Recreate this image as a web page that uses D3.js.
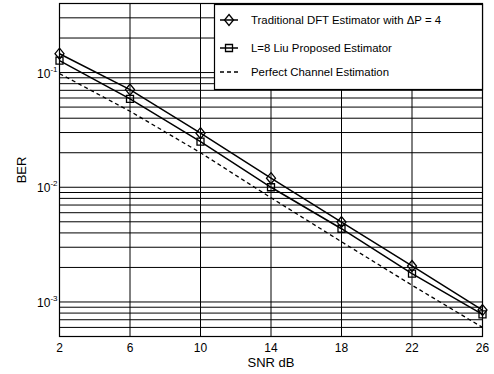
<!DOCTYPE html>
<html><head><meta charset="utf-8">
<script src="https://cdn.jsdelivr.net/npm/d3@7"></script>
<style>body{margin:0;background:#fff}svg{display:block;font-family:"Liberation Sans",Arial,sans-serif}</style>
</head><body><svg id="c" width="494" height="374"></svg>
<script>
const snr = [2, 6, 10, 14, 18, 22, 26];
const dftBER = [0.146, 0.071, 0.0296, 0.0120, 0.00497, 0.00206, 0.00085];
const liuBER = [0.127, 0.059, 0.0250, 0.0100, 0.00435, 0.00177, 0.00078];
const perfectBER = [0.098, 0.046, 0.0200, 0.0081, 0.00335, 0.0014, 0.0006];
const xTicks = [2, 6, 10, 14, 18, 22, 26];
const yTicks = [1e-3, 1e-2, 1e-1];
const yTickExp = ["-3", "-2", "-1"];
const legendLabels = ["Traditional DFT Estimator with \u0394P = 4", "L=8 Liu Proposed Estimator", "Perfect Channel Estimation"];
const xLabel = "SNR dB", yLabel = "BER";

const svg = d3.select("#c");
const L = 59.5, R = 482.5, T = 3.5, B = 336.5;
const x = d3.scaleLinear().domain([2, 26]).range([L, R]);
const y = d3.scaleLog().domain([5e-4, 0.4]).range([B, T]);

// grid
const minor = [];
for (const d of [1e-4, 1e-3, 1e-2, 1e-1]) for (let k = 1; k <= 9; k++) {
  const v = +(k * d).toPrecision(3);
  if (v > 5e-4 && v < 0.4) minor.push(v);
}
const g = svg.append("g");
g.selectAll(".hg").data(minor).join("line")
  .attr("x1", L).attr("x2", R).attr("y1", d => y(d)).attr("y2", d => y(d))
  .attr("stroke", "#000").attr("stroke-width", 1);
g.selectAll(".vg").data(xTicks.slice(1, -1)).join("line")
  .attr("y1", T).attr("y2", B).attr("x1", d => x(d)).attr("x2", d => x(d))
  .attr("stroke", "#000").attr("stroke-width", 1);

// series
const line = d3.line().x((d, i) => x(snr[i])).y(d => y(d));
svg.append("path").datum(perfectBER).attr("d", line).attr("fill", "none")
  .attr("stroke", "#000").attr("stroke-width", 1.3).attr("stroke-dasharray", "4,3");
svg.append("path").datum(liuBER).attr("d", line).attr("fill", "none")
  .attr("stroke", "#000").attr("stroke-width", 1.5);
svg.append("path").datum(dftBER).attr("d", line).attr("fill", "none")
  .attr("stroke", "#000").attr("stroke-width", 1.5);

function diamond(sel) { sel.attr("d", "M0,-5.5L4.5,0L0,5.5L-4.5,0Z").attr("fill", "none").attr("stroke", "#000").attr("stroke-width", 1.3); }
function square(sel) { sel.attr("d", "M-3.5,-3.5H3.5V3.5H-3.5Z").attr("fill", "none").attr("stroke", "#000").attr("stroke-width", 1.3); }
svg.selectAll(".dm").data(dftBER).join("path").attr("transform", (d, i) => `translate(${x(snr[i])},${y(d)})`).call(diamond);
svg.selectAll(".sq").data(liuBER).join("path").attr("transform", (d, i) => `translate(${x(snr[i])},${y(d)})`).call(square);

// border
svg.append("rect").attr("x", L).attr("y", T).attr("width", R - L).attr("height", B - T)
  .attr("fill", "none").attr("stroke", "#000").attr("stroke-width", 1.2);

// x tick labels
svg.selectAll(".xt").data(xTicks).join("text").attr("x", d => x(d)).attr("y", B + 15)
  .attr("text-anchor", "middle").attr("font-size", 12).text(d => d);
// y tick labels
const yt = svg.selectAll(".yt").data(yTicks).join("text").attr("x", L - 2).attr("y", d => y(d) + 5)
  .attr("text-anchor", "end").attr("font-size", 12);
yt.append("tspan").text("10");
yt.append("tspan").attr("dy", -6).attr("font-size", 8).text((d, i) => yTickExp[i]);

svg.append("text").attr("x", x(14)).attr("y", 367).attr("text-anchor", "middle").attr("font-size", 13).text(xLabel);
svg.append("text").attr("transform", `translate(26,170) rotate(-90)`).attr("text-anchor", "middle").attr("font-size", 13).text(yLabel);

// legend
const lx = 214.5, ly = 4.5, lw = 268, lh = 85;
svg.append("rect").attr("x", lx).attr("y", ly).attr("width", lw).attr("height", lh)
  .attr("fill", "#fff").attr("stroke", "#000").attr("stroke-width", 1.2);
const rows = [20, 48, 72];
rows.forEach((ry, i) => {
  const lg = svg.append("g");
  const ln = lg.append("line").attr("x1", 220).attr("x2", 238).attr("y1", ry).attr("y2", ry).attr("stroke", "#000");
  if (i === 2) ln.attr("stroke-dasharray", "4,3").attr("stroke-width", 1.3); else ln.attr("stroke-width", 1.5);
  if (i === 0) lg.append("path").attr("transform", `translate(229,${ry})`).call(diamond);
  if (i === 1) lg.append("path").attr("transform", `translate(229,${ry})`).call(square);
  lg.append("text").attr("x", 251).attr("y", ry + 4).attr("font-size", 11.4).text(legendLabels[i]);
});
</script></body></html>
